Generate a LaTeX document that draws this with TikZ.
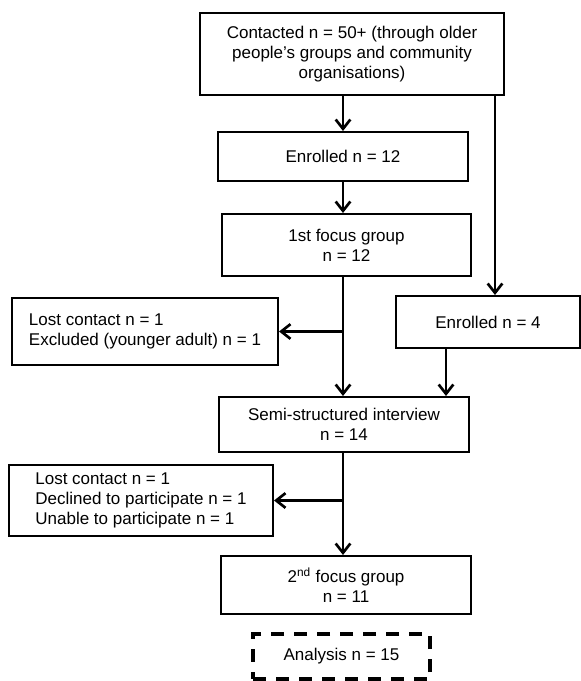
\documentclass[tikz,border=0pt]{standalone}
\usepackage{fontspec}
\setmainfont{Liberation Sans}
\usetikzlibrary{arrows.meta}
\tikzset{
    box/.style={draw, line width=1.5pt, align=center, inner sep=0pt,
        font=\fontsize{12.75}{14.8}\selectfont},
    lbox/.style={box, align=left},
    dbox/.style={box, line width=2.6pt, dash pattern=on 9.75pt off 7.5pt},
    arr/.style={line width=2pt, -{Straight Barb[length=7pt,width=11pt]}},
    stem/.style={line width=2pt}
}
\begin{document}
\begin{tikzpicture}[x=0.75pt,y=-0.75pt]
                \useasboundingbox (0,0) rectangle (581,681);
                \node[box, minimum width=228pt, minimum height=61.5pt] (contact) at (352,54)
                    {Contacted n = 50+ (through older\\people’s groups and community\\organisations)};
                \node[box, minimum width=187.5pt, minimum height=36.75pt] (enr12) at (343,156.5) {Enrolled n = 12};
                \node[box, minimum width=186.75pt, minimum height=46.5pt] (focus1) at (346.5,245) {1st focus group\\n = 12};
                \node[box, minimum width=138pt, minimum height=39pt] (enr4) at (488,322) {Enrolled n = 4};
                \node[lbox, minimum width=199.5pt, minimum height=50.25pt] (lost1) at (145,331.5)
                    {Lost contact n = 1\\Excluded (younger adult) n = 1};
                \node[box, minimum width=187.5pt, minimum height=41.25pt] (semi) at (344,424.5) {Semi-structured interview\\n = 14};
                \node[lbox, minimum width=198pt, minimum height=53.25pt] (lost2) at (141,500.5)
                    {Lost contact n = 1\\Declined to participate n = 1\\Unable to participate n = 1};
                \node[box, minimum width=187.5pt, minimum height=43.5pt] (focus2) at (346,585) {2\textsuperscript{nd} focus group\\n = 11};
                \node[dbox, minimum width=132.75pt, minimum height=33.75pt] (analysis) at (341.5,656.5) {Analysis n = 15};
                \coordinate (split1) at (focus1.south -| enr12);
                \coordinate (split2) at (semi.south -| enr12);
                \draw[arr] (contact.south -| enr12.north) -- (enr12.north);
                \draw[arr] ([xshift=-7.5pt]contact.south east) -- ([xshift=-7.5pt]contact.south east |- enr4.north);
                \draw[arr] (enr12) -- (enr12 |- focus1.north);
                \draw[arr] (split1) -- (split1 |- semi.north);
                \draw[arr] (split1 |- lost1.east) -- (lost1.east);
                \draw[arr] ([xshift=38.25pt]enr4.south west) -- ([xshift=38.25pt]enr4.south west |- semi.north);
                \draw[arr] (split2) -- (split2 |- focus2.north);
                \draw[arr] (split2 |- lost2.east) -- (lost2.east);
            \end{tikzpicture}
\end{document}
